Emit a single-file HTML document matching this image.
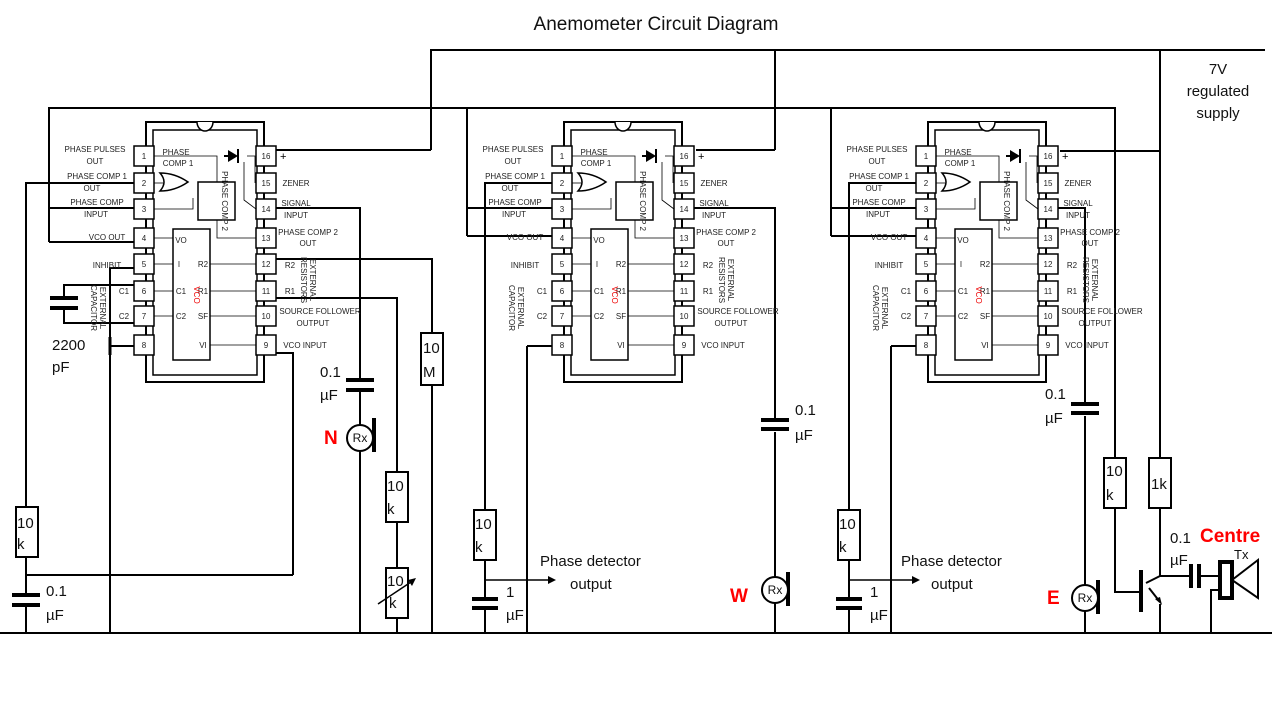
<!DOCTYPE html>
<html><head><meta charset="utf-8"><style>
html,body{margin:0;padding:0;background:#fff}
svg{display:block}
text{font-family:"Liberation Sans",sans-serif}
.s{font-size:8.5px;fill:#222}
.l{font-size:15px;fill:#111}
</style></head><body>
<svg width="1280" height="720" viewBox="0 0 1280 720" xmlns="http://www.w3.org/2000/svg">
<text x="656" y="30" text-anchor="middle" style="font-size:19px" fill="#111">Anemometer Circuit Diagram</text>

<g fill="none" stroke="#000" stroke-width="2">
<!-- supply buses -->
<polyline points="431,150 431,50 1265,50"/>
<polyline points="49,242 49,108 1115,108 1115,458"/>
<polyline points="1160,50 1160,458"/>
<line x1="775" y1="50" x2="775" y2="150"/>
<line x1="276" y1="150" x2="431" y2="150"/>
<line x1="696" y1="150" x2="775" y2="150"/>
<line x1="1060" y1="151" x2="1160" y2="151"/>
<line x1="0" y1="633" x2="1272" y2="633"/>
<!-- IC1 left -->
<line x1="49" y1="208" x2="134" y2="208"/><line x1="49" y1="242" x2="134" y2="242"/>
<polyline points="134,183 26,183 26,507"/>
<rect x="16" y="507" width="22" height="50"/>
<line x1="26" y1="557" x2="26" y2="593"/><line x1="26" y1="607" x2="26" y2="633"/>
<line x1="26" y1="575" x2="293" y2="575"/>
<polyline points="276,353 293,353 293,575"/>
<polyline points="134,268 110,268 110,633"/>
<line x1="110" y1="337" x2="110" y2="355" stroke-width="3"/>
<line x1="110" y1="346" x2="134" y2="346"/>
<polyline points="134,285 64,285 64,296"/><polyline points="134,323 64,323 64,310"/>
<!-- IC1 right -->
<polyline points="276,208 360,208 360,378"/>
<line x1="360" y1="392" x2="360" y2="425"/><line x1="360" y1="451" x2="360" y2="633"/>
<polyline points="276,259 432,259 432,333"/>
<rect x="421" y="333" width="22" height="52"/>
<line x1="432" y1="385" x2="432" y2="633"/>
<polyline points="276,298 397,298 397,472"/>
<rect x="386" y="472" width="22" height="50"/>
<line x1="397" y1="522" x2="397" y2="568"/>
<rect x="386" y="568" width="22" height="50"/>
<line x1="397" y1="618" x2="397" y2="633"/>
<!-- IC2 -->
<line x1="467" y1="108" x2="467" y2="236"/>
<line x1="467" y1="208" x2="552" y2="208"/><line x1="467" y1="236" x2="552" y2="236"/>
<polyline points="552,183 485,183 485,510"/>
<rect x="474" y="510" width="22" height="50"/>
<line x1="485" y1="560" x2="485" y2="597"/><line x1="485" y1="610" x2="485" y2="633"/>
<line x1="527" y1="346" x2="527" y2="633"/><line x1="527" y1="346" x2="552" y2="346"/>
<polyline points="694,208 775,208 775,418"/>
<line x1="775" y1="432" x2="775" y2="577"/><line x1="775" y1="603" x2="775" y2="633"/>
<!-- IC3 -->
<line x1="831" y1="108" x2="831" y2="236"/>
<line x1="831" y1="208" x2="916" y2="208"/><line x1="831" y1="236" x2="916" y2="236"/>
<polyline points="916,183 849,183 849,510"/>
<rect x="838" y="510" width="22" height="50"/>
<line x1="849" y1="560" x2="849" y2="597"/><line x1="849" y1="610" x2="849" y2="633"/>
<line x1="891" y1="346" x2="891" y2="633"/><line x1="891" y1="346" x2="916" y2="346"/>
<polyline points="1058,208 1085,208 1085,402"/>
<line x1="1085" y1="416" x2="1085" y2="585"/><line x1="1085" y1="611" x2="1085" y2="633"/>
<!-- transistor stage -->
<rect x="1104" y="458" width="22" height="50"/>
<rect x="1149" y="458" width="22" height="50"/>
<polyline points="1115,508 1115,592 1141,592"/>
<polyline points="1160,508 1160,576 1190,576"/>
<line x1="1149" y1="588" x2="1160" y2="602"/>
<line x1="1160" y1="604" x2="1160" y2="633"/>
<line x1="1200" y1="576" x2="1220" y2="576"/>
<polyline points="1211,633 1211,590 1220,590"/>
<line x1="1141" y1="570" x2="1141" y2="612" stroke-width="4"/>
<line x1="1146" y1="583" x2="1160" y2="576"/>
<rect x="1220" y="562" width="12" height="36" stroke-width="4"/>
<polygon points="1232,580 1258,560 1258,598"/>
</g>
<polygon points="1162,605 1155,599 1160,597" fill="#000"/>
<!-- capacitors -->
<g stroke="#000" stroke-width="4">
<line x1="50" y1="298" x2="78" y2="298"/><line x1="50" y1="308" x2="78" y2="308"/>
<line x1="12" y1="595" x2="40" y2="595"/><line x1="12" y1="605" x2="40" y2="605"/>
<line x1="346" y1="380" x2="374" y2="380"/><line x1="346" y1="390" x2="374" y2="390"/>
<line x1="472" y1="599" x2="498" y2="599"/><line x1="472" y1="608" x2="498" y2="608"/>
<line x1="761" y1="420" x2="789" y2="420"/><line x1="761" y1="429" x2="789" y2="429"/>
<line x1="836" y1="599" x2="862" y2="599"/><line x1="836" y1="608" x2="862" y2="608"/>
<line x1="1071" y1="404" x2="1099" y2="404"/><line x1="1071" y1="413" x2="1099" y2="413"/>
<line x1="1191" y1="564" x2="1191" y2="588"/><line x1="1199" y1="564" x2="1199" y2="588"/>
<line x1="374" y1="418" x2="374" y2="452"/>
<line x1="788" y1="572" x2="788" y2="606"/>
<line x1="1098" y1="580" x2="1098" y2="614"/>
</g>
<!-- Rx -->
<g fill="#fff" stroke="#000" stroke-width="2">
<circle cx="360" cy="438" r="13"/><circle cx="775" cy="590" r="13"/><circle cx="1085" cy="598" r="13"/>
</g>
<g style="font-size:12px" fill="#111" text-anchor="middle">
<text x="360" y="442">Rx</text><text x="775" y="594">Rx</text><text x="1085" y="602">Rx</text>
</g>
<!-- variable resistor arrow -->
<line x1="378" y1="604" x2="414" y2="580" stroke="#000" stroke-width="1.5"/>
<polygon points="416,578 408,580 412,586" fill="#000"/>
<!-- phase detector arrows -->
<line x1="485" y1="580" x2="552" y2="580" stroke="#000" stroke-width="1.5"/><polygon points="556,580 548,576 548,584"/>
<line x1="849" y1="580" x2="916" y2="580" stroke="#000" stroke-width="1.5"/><polygon points="920,580 912,576 912,584"/>

<g class="l">
<text x="1218" y="74" text-anchor="middle">7V</text>
<text x="1218" y="96" text-anchor="middle">regulated</text>
<text x="1218" y="118" text-anchor="middle">supply</text>
<text x="52" y="350">2200</text><text x="52" y="372">pF</text>
<text x="17" y="528">10</text><text x="17" y="549">k</text>
<text x="46" y="596">0.1</text><text x="46" y="620">µF</text>
<text x="320" y="377">0.1</text><text x="320" y="400">µF</text>
<text x="423" y="353">10</text><text x="423" y="377">M</text>
<text x="387" y="491">10</text><text x="387" y="514">k</text>
<text x="387" y="586">10</text><text x="389" y="608">k</text>
<text x="475" y="529">10</text><text x="475" y="552">k</text>
<text x="506" y="597">1</text><text x="506" y="620">µF</text>
<text x="540" y="566">Phase detector</text><text x="570" y="589">output</text>
<text x="795" y="415">0.1</text><text x="795" y="440">µF</text>
<text x="839" y="529">10</text><text x="839" y="552">k</text>
<text x="870" y="597">1</text><text x="870" y="620">µF</text>
<text x="901" y="566">Phase detector</text><text x="931" y="589">output</text>
<text x="1045" y="399">0.1</text><text x="1045" y="423">µF</text>
<text x="1106" y="476">10</text><text x="1106" y="500">k</text>
<text x="1151" y="489">1k</text>
<text x="1170" y="543">0.1</text><text x="1170" y="565">µF</text>
<text x="1234" y="559" style="font-size:13px">Tx</text>
</g>
<g fill="#f00" font-weight="bold" style="font-size:19px">
<text x="324" y="444">N</text><text x="730" y="602">W</text><text x="1047" y="604">E</text>
<text x="1200" y="542">Centre</text>
</g>

<!-- IC template repeated -->
<g id="ic1">
<rect x="146" y="122" width="118" height="260" fill="#fff" stroke="#000" stroke-width="2"/>
<rect x="153" y="130" width="104" height="245" fill="none" stroke="#000" stroke-width="1.5"/>
<path d="M197,122 A8,9 0 0 0 213,122" fill="#fff" stroke="#000" stroke-width="1.5"/>
<g fill="#fff" stroke="#000" stroke-width="1.5">
<rect x="134" y="146" width="20" height="20"/><rect x="134" y="173" width="20" height="20"/><rect x="134" y="199" width="20" height="20"/><rect x="134" y="228" width="20" height="20"/><rect x="134" y="254" width="20" height="20"/><rect x="134" y="281" width="20" height="20"/><rect x="134" y="306" width="20" height="20"/><rect x="134" y="335" width="20" height="20"/>
<rect x="256" y="146" width="20" height="20"/><rect x="256" y="173" width="20" height="20"/><rect x="256" y="199" width="20" height="20"/><rect x="256" y="228" width="20" height="20"/><rect x="256" y="254" width="20" height="20"/><rect x="256" y="281" width="20" height="20"/><rect x="256" y="306" width="20" height="20"/><rect x="256" y="335" width="20" height="20"/>
<rect x="173" y="229" width="37" height="131" fill="none"/>
<rect x="198" y="182" width="37" height="38" fill="none"/>
</g>
<g stroke="#000" stroke-width="0.8" fill="none">
<line x1="154" y1="238" x2="173" y2="238"/><line x1="154" y1="264" x2="173" y2="264"/><line x1="154" y1="291" x2="173" y2="291"/><line x1="154" y1="316" x2="173" y2="316"/>
<line x1="210" y1="264" x2="256" y2="264"/><line x1="210" y1="291" x2="256" y2="291"/><line x1="210" y1="316" x2="256" y2="316"/><line x1="210" y1="345" x2="256" y2="345"/>
<polyline points="154,156 217,156 217,182"/><polyline points="217,220 217,238 256,238"/>
<polyline points="154,209 193,209 193,198"/><polyline points="244,162 244,200 256,209"/>
<polyline points="247,156 255,156 255,183"/>
<path d="M160,173 Q175,173 188,182 Q175,191 160,191 Q168,182 160,173Z" stroke-width="1.5"/>
<line x1="154" y1="183" x2="163" y2="183"/>
</g>
<polygon points="228,150 238,156 228,162" fill="#000"/><line x1="238" y1="149" x2="238" y2="163" stroke="#000" stroke-width="2"/><line x1="224" y1="156" x2="228" y2="156" stroke="#000" stroke-width="2"/>
<g class="s" text-anchor="middle" style="font-size:8px">
<text x="144" y="159">1</text><text x="144" y="186">2</text><text x="144" y="212">3</text><text x="144" y="241">4</text><text x="144" y="267">5</text><text x="144" y="294">6</text><text x="144" y="319">7</text><text x="144" y="348">8</text>
<text x="266" y="159">16</text><text x="266" y="186">15</text><text x="266" y="212">14</text><text x="266" y="241">13</text><text x="266" y="267">12</text><text x="266" y="294">11</text><text x="266" y="319">10</text><text x="266" y="348">9</text>
<text x="95" y="152">PHASE PULSES</text><text x="95" y="164">OUT</text>
<text x="97" y="179">PHASE COMP 1</text><text x="92" y="191">OUT</text>
<text x="97" y="205">PHASE COMP</text><text x="96" y="217">INPUT</text>
<text x="107" y="240">VCO OUT</text><text x="107" y="268">INHIBIT</text>
<text x="176" y="155">PHASE</text><text x="178" y="166">COMP 1</text>
<text x="296" y="186">ZENER</text><text x="296" y="206">SIGNAL</text><text x="296" y="218">INPUT</text>
<text x="308" y="235">PHASE COMP 2</text><text x="308" y="246">OUT</text>
<text x="320" y="314">SOURCE FOLLOWER</text><text x="313" y="326">OUTPUT</text>
<text x="305" y="348">VCO INPUT</text>
<text x="179" y="267">I</text><text x="203" y="267">R2</text><text x="203" y="294">R1</text><text x="181" y="294">C1</text><text x="181" y="319">C2</text><text x="203" y="319">SF</text><text x="203" y="348">VI</text><text x="181" y="243">VO</text>
<text x="205" y="306" fill="#e00" transform="rotate(90 205 295)">VCO</text>
<text x="290" y="268">R2</text><text x="290" y="294">R1</text>
<text x="124" y="294">C1</text><text x="124" y="319">C2</text>
<text x="310" y="280" transform="rotate(90 310 280)">EXTERNAL</text>
<text x="301" y="280" transform="rotate(90 301 280)">RESISTORS</text>
<text x="100" y="308" transform="rotate(90 100 308)">EXTERNAL</text>
<text x="91" y="308" transform="rotate(90 91 308)">CAPACITOR</text>
<text x="222" y="201" transform="rotate(90 222 201)">PHASE COMP 2</text>
</g>
<text x="280" y="160" style="font-size:11px">+</text>
</g>

<g transform="translate(418,0)">
<rect x="146" y="122" width="118" height="260" fill="#fff" stroke="#000" stroke-width="2"/>
<rect x="153" y="130" width="104" height="245" fill="none" stroke="#000" stroke-width="1.5"/>
<path d="M197,122 A8,9 0 0 0 213,122" fill="#fff" stroke="#000" stroke-width="1.5"/>
<g fill="#fff" stroke="#000" stroke-width="1.5">
<rect x="134" y="146" width="20" height="20"/><rect x="134" y="173" width="20" height="20"/><rect x="134" y="199" width="20" height="20"/><rect x="134" y="228" width="20" height="20"/><rect x="134" y="254" width="20" height="20"/><rect x="134" y="281" width="20" height="20"/><rect x="134" y="306" width="20" height="20"/><rect x="134" y="335" width="20" height="20"/>
<rect x="256" y="146" width="20" height="20"/><rect x="256" y="173" width="20" height="20"/><rect x="256" y="199" width="20" height="20"/><rect x="256" y="228" width="20" height="20"/><rect x="256" y="254" width="20" height="20"/><rect x="256" y="281" width="20" height="20"/><rect x="256" y="306" width="20" height="20"/><rect x="256" y="335" width="20" height="20"/>
<rect x="173" y="229" width="37" height="131" fill="none"/>
<rect x="198" y="182" width="37" height="38" fill="none"/>
</g>
<g stroke="#000" stroke-width="0.8" fill="none">
<line x1="154" y1="238" x2="173" y2="238"/><line x1="154" y1="264" x2="173" y2="264"/><line x1="154" y1="291" x2="173" y2="291"/><line x1="154" y1="316" x2="173" y2="316"/>
<line x1="210" y1="264" x2="256" y2="264"/><line x1="210" y1="291" x2="256" y2="291"/><line x1="210" y1="316" x2="256" y2="316"/><line x1="210" y1="345" x2="256" y2="345"/>
<polyline points="154,156 217,156 217,182"/><polyline points="217,220 217,238 256,238"/>
<polyline points="154,209 193,209 193,198"/><polyline points="244,162 244,200 256,209"/>
<polyline points="247,156 255,156 255,183"/>
<path d="M160,173 Q175,173 188,182 Q175,191 160,191 Q168,182 160,173Z" stroke-width="1.5"/>
<line x1="154" y1="183" x2="163" y2="183"/>
</g>
<polygon points="228,150 238,156 228,162" fill="#000"/><line x1="238" y1="149" x2="238" y2="163" stroke="#000" stroke-width="2"/><line x1="224" y1="156" x2="228" y2="156" stroke="#000" stroke-width="2"/>
<g class="s" text-anchor="middle" style="font-size:8px">
<text x="144" y="159">1</text><text x="144" y="186">2</text><text x="144" y="212">3</text><text x="144" y="241">4</text><text x="144" y="267">5</text><text x="144" y="294">6</text><text x="144" y="319">7</text><text x="144" y="348">8</text>
<text x="266" y="159">16</text><text x="266" y="186">15</text><text x="266" y="212">14</text><text x="266" y="241">13</text><text x="266" y="267">12</text><text x="266" y="294">11</text><text x="266" y="319">10</text><text x="266" y="348">9</text>
<text x="95" y="152">PHASE PULSES</text><text x="95" y="164">OUT</text>
<text x="97" y="179">PHASE COMP 1</text><text x="92" y="191">OUT</text>
<text x="97" y="205">PHASE COMP</text><text x="96" y="217">INPUT</text>
<text x="107" y="240">VCO OUT</text><text x="107" y="268">INHIBIT</text>
<text x="176" y="155">PHASE</text><text x="178" y="166">COMP 1</text>
<text x="296" y="186">ZENER</text><text x="296" y="206">SIGNAL</text><text x="296" y="218">INPUT</text>
<text x="308" y="235">PHASE COMP 2</text><text x="308" y="246">OUT</text>
<text x="320" y="314">SOURCE FOLLOWER</text><text x="313" y="326">OUTPUT</text>
<text x="305" y="348">VCO INPUT</text>
<text x="179" y="267">I</text><text x="203" y="267">R2</text><text x="203" y="294">R1</text><text x="181" y="294">C1</text><text x="181" y="319">C2</text><text x="203" y="319">SF</text><text x="203" y="348">VI</text><text x="181" y="243">VO</text>
<text x="205" y="306" fill="#e00" transform="rotate(90 205 295)">VCO</text>
<text x="290" y="268">R2</text><text x="290" y="294">R1</text>
<text x="124" y="294">C1</text><text x="124" y="319">C2</text>
<text x="310" y="280" transform="rotate(90 310 280)">EXTERNAL</text>
<text x="301" y="280" transform="rotate(90 301 280)">RESISTORS</text>
<text x="100" y="308" transform="rotate(90 100 308)">EXTERNAL</text>
<text x="91" y="308" transform="rotate(90 91 308)">CAPACITOR</text>
<text x="222" y="201" transform="rotate(90 222 201)">PHASE COMP 2</text>
</g>
<text x="280" y="160" style="font-size:11px">+</text>
</g>

<g transform="translate(782,0)">
<rect x="146" y="122" width="118" height="260" fill="#fff" stroke="#000" stroke-width="2"/>
<rect x="153" y="130" width="104" height="245" fill="none" stroke="#000" stroke-width="1.5"/>
<path d="M197,122 A8,9 0 0 0 213,122" fill="#fff" stroke="#000" stroke-width="1.5"/>
<g fill="#fff" stroke="#000" stroke-width="1.5">
<rect x="134" y="146" width="20" height="20"/><rect x="134" y="173" width="20" height="20"/><rect x="134" y="199" width="20" height="20"/><rect x="134" y="228" width="20" height="20"/><rect x="134" y="254" width="20" height="20"/><rect x="134" y="281" width="20" height="20"/><rect x="134" y="306" width="20" height="20"/><rect x="134" y="335" width="20" height="20"/>
<rect x="256" y="146" width="20" height="20"/><rect x="256" y="173" width="20" height="20"/><rect x="256" y="199" width="20" height="20"/><rect x="256" y="228" width="20" height="20"/><rect x="256" y="254" width="20" height="20"/><rect x="256" y="281" width="20" height="20"/><rect x="256" y="306" width="20" height="20"/><rect x="256" y="335" width="20" height="20"/>
<rect x="173" y="229" width="37" height="131" fill="none"/>
<rect x="198" y="182" width="37" height="38" fill="none"/>
</g>
<g stroke="#000" stroke-width="0.8" fill="none">
<line x1="154" y1="238" x2="173" y2="238"/><line x1="154" y1="264" x2="173" y2="264"/><line x1="154" y1="291" x2="173" y2="291"/><line x1="154" y1="316" x2="173" y2="316"/>
<line x1="210" y1="264" x2="256" y2="264"/><line x1="210" y1="291" x2="256" y2="291"/><line x1="210" y1="316" x2="256" y2="316"/><line x1="210" y1="345" x2="256" y2="345"/>
<polyline points="154,156 217,156 217,182"/><polyline points="217,220 217,238 256,238"/>
<polyline points="154,209 193,209 193,198"/><polyline points="244,162 244,200 256,209"/>
<polyline points="247,156 255,156 255,183"/>
<path d="M160,173 Q175,173 188,182 Q175,191 160,191 Q168,182 160,173Z" stroke-width="1.5"/>
<line x1="154" y1="183" x2="163" y2="183"/>
</g>
<polygon points="228,150 238,156 228,162" fill="#000"/><line x1="238" y1="149" x2="238" y2="163" stroke="#000" stroke-width="2"/><line x1="224" y1="156" x2="228" y2="156" stroke="#000" stroke-width="2"/>
<g class="s" text-anchor="middle" style="font-size:8px">
<text x="144" y="159">1</text><text x="144" y="186">2</text><text x="144" y="212">3</text><text x="144" y="241">4</text><text x="144" y="267">5</text><text x="144" y="294">6</text><text x="144" y="319">7</text><text x="144" y="348">8</text>
<text x="266" y="159">16</text><text x="266" y="186">15</text><text x="266" y="212">14</text><text x="266" y="241">13</text><text x="266" y="267">12</text><text x="266" y="294">11</text><text x="266" y="319">10</text><text x="266" y="348">9</text>
<text x="95" y="152">PHASE PULSES</text><text x="95" y="164">OUT</text>
<text x="97" y="179">PHASE COMP 1</text><text x="92" y="191">OUT</text>
<text x="97" y="205">PHASE COMP</text><text x="96" y="217">INPUT</text>
<text x="107" y="240">VCO OUT</text><text x="107" y="268">INHIBIT</text>
<text x="176" y="155">PHASE</text><text x="178" y="166">COMP 1</text>
<text x="296" y="186">ZENER</text><text x="296" y="206">SIGNAL</text><text x="296" y="218">INPUT</text>
<text x="308" y="235">PHASE COMP 2</text><text x="308" y="246">OUT</text>
<text x="320" y="314">SOURCE FOLLOWER</text><text x="313" y="326">OUTPUT</text>
<text x="305" y="348">VCO INPUT</text>
<text x="179" y="267">I</text><text x="203" y="267">R2</text><text x="203" y="294">R1</text><text x="181" y="294">C1</text><text x="181" y="319">C2</text><text x="203" y="319">SF</text><text x="203" y="348">VI</text><text x="181" y="243">VO</text>
<text x="205" y="306" fill="#e00" transform="rotate(90 205 295)">VCO</text>
<text x="290" y="268">R2</text><text x="290" y="294">R1</text>
<text x="124" y="294">C1</text><text x="124" y="319">C2</text>
<text x="310" y="280" transform="rotate(90 310 280)">EXTERNAL</text>
<text x="301" y="280" transform="rotate(90 301 280)">RESISTORS</text>
<text x="100" y="308" transform="rotate(90 100 308)">EXTERNAL</text>
<text x="91" y="308" transform="rotate(90 91 308)">CAPACITOR</text>
<text x="222" y="201" transform="rotate(90 222 201)">PHASE COMP 2</text>
</g>
<text x="280" y="160" style="font-size:11px">+</text>
</g>
</svg>
</body></html>
